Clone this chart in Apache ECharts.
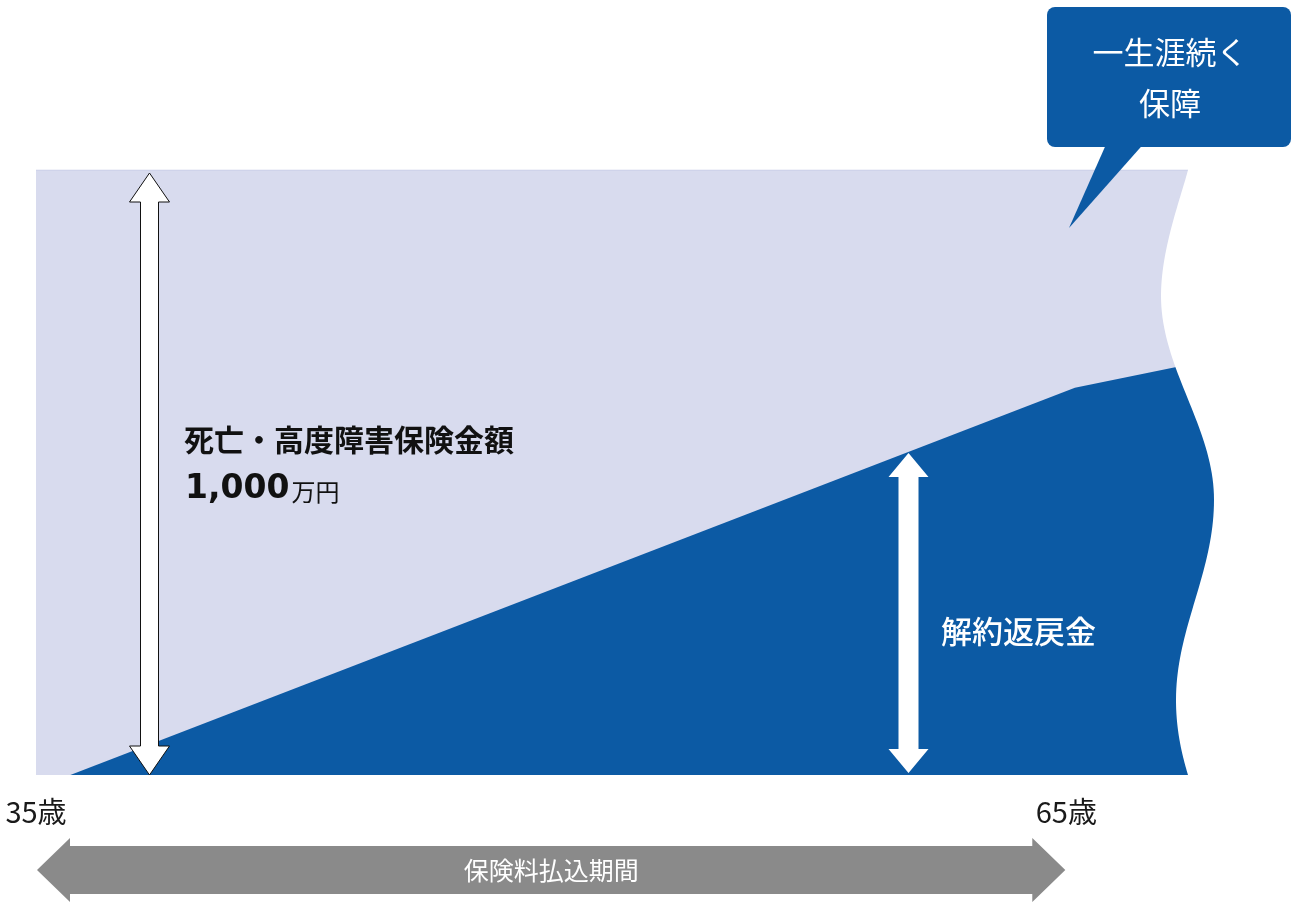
<!DOCTYPE html>
<html><head><meta charset="utf-8">
<script src="https://cdn.jsdelivr.net/npm/echarts@6/dist/echarts.min.js"></script>
<style>html,body{margin:0;padding:0;background:#fff}#main{width:1292px;height:902px}</style>
</head><body><div id="main"></div>
<script>
// ---- data ----
const benefitAges = [35, 70];
const benefitValues = [1000, 1000];
const surrenderAges = [36, 65.25, 68.1, 70];
const surrenderValues = [0, 640, 673, 695];
const xLabelAges = [35, 65];
const ageSuffix = '歳';
const arrowBenefit = [38.3, 0, 1000];
const arrowSurrender = [60.4, 0, 534];
const paymentPeriod = [35, 65];
const benefitTitle = '死亡・高度障害保険金額';
const benefitAmount = '1,000';
const benefitUnit = '万円';
const surrenderLabel = '解約返戻金';
const bubbleLines = ['一生涯続く', '保障'];
const periodLabel = '保険料払込期間';

// ---- styles ----
const FONT = "'Noto Sans CJK JP', 'Noto Sans', sans-serif";
const LAV = '#D8DBEE';
const BLUE = '#0C5AA4';
const GRAY = '#8A8A8A';
const arrowStyles = [
  {fill: '#fff', stroke: '#111', lineWidth: 1, head: 29, half: 20, shaft: 9, topGap: 3, botGap: 0},
  {fill: '#fff', stroke: null, lineWidth: 0, head: 24, half: 20, shaft: 10, topGap: 1, botGap: 2}
];

const chart = echarts.init(document.getElementById('main'), null, {renderer: 'canvas'});

function zip(a, b) { return a.map((v, i) => [v, b[i]]); }

const option = {
  animation: false,
  backgroundColor: '#fff',
  grid: {left: 36, right: 54, top: 170, bottom: 127},
  xAxis: {
    type: 'value', min: 35, max: 70,
    axisLine: {show: false}, axisTick: {show: false}, splitLine: {show: false},
    axisLabel: {
      customValues: xLabelAges,
      formatter: v => v + ageSuffix,
      fontSize: 29, color: '#1a1a1a', margin: 22, fontFamily: FONT
    }
  },
  yAxis: {type: 'value', min: 0, max: 1000, show: false},
  series: [
    {
      type: 'line', data: zip(benefitAges, benefitValues), symbol: 'none', z: 1,
      lineStyle: {width: 1, color: '#C6CCE6'},
      areaStyle: {color: LAV, opacity: 1}
    },
    {
      type: 'line', data: zip(surrenderAges, surrenderValues), symbol: 'none', z: 2,
      lineStyle: {width: 0, color: BLUE},
      areaStyle: {color: BLUE, opacity: 1}
    },
    {
      type: 'custom', z: 5, clip: false,
      data: [arrowBenefit, arrowSurrender],
      renderItem: function (params, api) {
        const s = arrowStyles[params.dataIndex];
        const top = api.coord([api.value(0), api.value(2)]);
        const bot = api.coord([api.value(0), api.value(1)]);
        const x = Math.round(top[0]) + 0.5;
        const y1 = top[1] + s.topGap, y2 = bot[1] - s.botGap;
        const pts = [
          [x, y1], [x + s.half, y1 + s.head], [x + s.shaft, y1 + s.head],
          [x + s.shaft, y2 - s.head], [x + s.half, y2 - s.head], [x, y2],
          [x - s.half, y2 - s.head], [x - s.shaft, y2 - s.head],
          [x - s.shaft, y1 + s.head], [x - s.half, y1 + s.head]
        ];
        return {
          type: 'polygon', shape: {points: pts},
          style: {fill: s.fill, stroke: s.stroke, lineWidth: s.lineWidth}
        };
      }
    },
    {
      type: 'custom', z: 5, clip: false,
      data: [paymentPeriod],
      renderItem: function (params, api) {
        const a = api.coord([api.value(0), 0]);
        const b = api.coord([api.value(1), 0]);
        const yc = a[1] + 95;
        const xl = a[0] + 1, xr = b[0] - 1;
        const headL = 33, headH = 32, shaftH = 24;
        const pts = [
          [xl, yc], [xl + headL, yc - headH], [xl + headL, yc - shaftH],
          [xr - headL, yc - shaftH], [xr - headL, yc - headH], [xr, yc],
          [xr - headL, yc + headH], [xr - headL, yc + shaftH],
          [xl + headL, yc + shaftH], [xl + headL, yc + headH]
        ];
        return {
          type: 'group',
          children: [
            {type: 'polygon', shape: {points: pts}, style: {fill: GRAY}},
            {type: 'text', x: (xl + xr) / 2, y: yc,
              style: {text: periodLabel, fill: '#fff', font: '25px ' + FONT, align: 'center', verticalAlign: 'middle'}}
          ]
        };
      }
    }
  ]
};
chart.setOption(option);

// decorative wavy cut on the right edge, anchored on the grid
const yTop = chart.convertToPixel({gridIndex: 0}, [35, 1000])[1];
const yBot = chart.convertToPixel({gridIndex: 0}, [35, 0])[1];
const xR = 1188;
const H = yBot - yTop;
function py(f) { return yTop + f * H; }
const segs = [
  [[xR, yTop], [xR - 8, py(0.05)], [xR - 27, py(0.132)], [xR - 27, py(0.208)]],
  [[xR - 27, py(0.208)], [xR - 27, py(0.329)], [xR + 26, py(0.425)], [xR + 26, py(0.545)]],
  [[xR + 26, py(0.545)], [xR + 26, py(0.666)], [xR - 12, py(0.757)], [xR - 12, py(0.876)]],
  [[xR - 12, py(0.876)], [xR - 12, py(0.926)], [xR - 6, py(0.967)], [xR, yBot]]
];
const wavePts = [[xR, yTop - 6]];
segs.forEach(s => {
  for (let i = 0; i <= 40; i++) {
    const t = i / 40, u = 1 - t;
    const bx = u*u*u*s[0][0] + 3*u*u*t*s[1][0] + 3*u*t*t*s[2][0] + t*t*t*s[3][0];
    const by = u*u*u*s[0][1] + 3*u*u*t*s[1][1] + 3*u*t*t*s[2][1] + t*t*t*s[3][1];
    wavePts.push([bx, by]);
  }
});
wavePts.push([xR, yBot + 6], [1292, yBot + 6], [1292, yTop - 6]);

chart.setOption({
  graphic: [
    {type: 'polygon', z: 100, shape: {points: wavePts}, style: {fill: '#fff'}},
    {type: 'rect', z: 110, shape: {x: 1047, y: 7, width: 244, height: 140, r: 8}, style: {fill: BLUE}},
    {type: 'polygon', z: 110, shape: {points: [[1108, 140], [1147, 140], [1069, 228]]}, style: {fill: BLUE}},
    {type: 'text', z: 120, x: 1170, y: 52, style: {text: bubbleLines[0], fill: '#fff', font: '31px ' + FONT, align: 'center', verticalAlign: 'middle'}},
    {type: 'text', z: 120, x: 1170, y: 103, style: {text: bubbleLines[1], fill: '#fff', font: '31px ' + FONT, align: 'center', verticalAlign: 'middle'}},
    {type: 'text', z: 120, x: 184, y: 440, style: {text: benefitTitle, fill: '#111', font: 'bold 30px ' + FONT, align: 'left', verticalAlign: 'middle'}},
    {type: 'text', z: 120, x: 185, y: 489, style: {
      text: '{a|' + benefitAmount + '}{b|' + benefitUnit + '}',
      align: 'left', verticalAlign: 'middle',
      rich: {
        a: {fontSize: 33, fontWeight: 'bold', fontFamily: "'DejaVu Sans', sans-serif", fill: '#111', verticalAlign: 'bottom'},
        b: {fontSize: 24, fontFamily: FONT, fill: '#111', verticalAlign: 'bottom', padding: [0, 0, 2, 2]}
      }
    }},
    {type: 'text', z: 120, x: 941, y: 631, style: {text: surrenderLabel, fill: '#fff', font: '500 31px ' + FONT, align: 'left', verticalAlign: 'middle'}}
  ]
});
</script>
</body></html>
